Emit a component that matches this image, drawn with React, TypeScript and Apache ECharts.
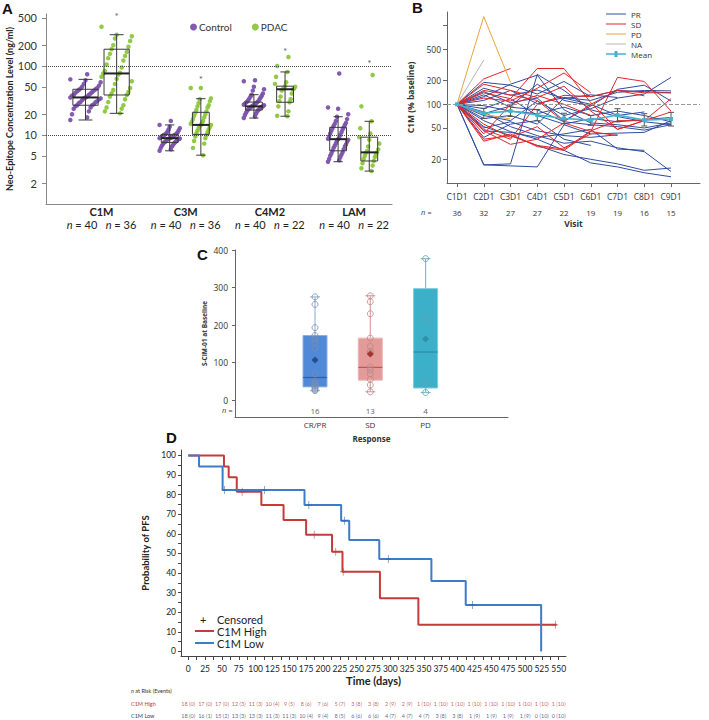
import React, { useEffect, useRef } from 'react';
import * as echarts from 'echarts';

/* ================= Panel A: neo-epitope levels ================= */
const A_CATEGORIES = ['C1M', 'C3M', 'C4M2', 'LAM'];
const A_N_CONTROL = [40, 40, 40, 40];
const A_N_PDAC = [36, 36, 22, 22];
const A_Y_LABELS = [2, 5, 10, 20, 50, 100, 200, 500];
const A_REF_LINES = [100, 10];
// [min, q1, median, q3, max]
const A_CONTROL_BOX = [
  [16.5, 27, 35, 46, 64],
  [5.9, 7.8, 9.0, 10.2, 14],
  [17.6, 23, 26, 30, 38.4],
  [4.1, 5.9, 8.7, 12.9, 18.4],
];
const A_PDAC_BOX = [
  [20.6, 38, 78, 175, 284],
  [5.1, 10.2, 14, 21.3, 33.6],
  [18.7, 29.8, 46, 51, 82],
  [3.0, 4.2, 5.6, 9.3, 15.8],
];
const A_PDAC_FLAGGED = [590, 72, 184, 122];
const A_C1M_CONTROL = [16.5, 18, 20, 22, 24, 25, 26, 27, 27, 28, 29, 30, 30, 31, 32, 33, 34, 34, 35, 35, 36, 37, 38, 38, 40, 41, 42, 43, 44, 45, 46, 47, 48, 50, 52, 55, 58, 62, 64, 76];
const A_C3M_CONTROL = [5.9, 6.2, 6.5, 6.8, 7.0, 7.2, 7.4, 7.6, 7.8, 7.9, 8.0, 8.2, 8.3, 8.5, 8.6, 8.7, 8.8, 8.9, 9.0, 9.0, 9.1, 9.2, 9.3, 9.5, 9.6, 9.8, 9.9, 10.0, 10.1, 10.2, 10.4, 10.6, 10.9, 11.2, 11.6, 12.0, 12.5, 13.2, 14.0, 16.0];
const A_C4M2_CONTROL = [17.6, 18.5, 19.5, 20.5, 21.0, 22.0, 22.5, 23.0, 23.5, 24.0, 24.5, 25.0, 25.0, 25.5, 26.0, 26.0, 26.5, 27.0, 27.0, 27.5, 28.0, 28.5, 29.0, 29.5, 30.0, 30.5, 31.0, 32.0, 33.0, 34.0, 35.0, 36.0, 37.0, 38.4, 40.0, 44.0, 46.0, 50.0, 60.0, 62.0];
const A_LAM_CONTROL = [4.1, 4.3, 4.5, 4.8, 5.0, 5.2, 5.4, 5.6, 5.9, 6.2, 6.5, 6.8, 7.0, 7.3, 7.6, 8.0, 8.3, 8.5, 8.7, 8.8, 9.0, 9.5, 10.0, 10.5, 11.0, 11.5, 12.0, 12.5, 12.9, 13.5, 14.0, 14.5, 15.0, 16.0, 17.0, 18.4, 20.0, 24.0, 25.0, 78.0];
const A_C1M_PDAC = [20.6, 22, 24, 25, 27, 30, 33, 36, 38, 40, 42, 45, 48, 55, 60, 65, 70, 75, 78, 80, 85, 95, 105, 120, 130, 140, 150, 160, 175, 190, 200, 230, 250, 270, 284, 370];
const A_C3M_PDAC = [5.1, 6.5, 7.5, 8.2, 9.0, 9.5, 10.0, 10.5, 11.0, 11.5, 12.0, 12.5, 13.0, 13.5, 14.0, 14.0, 14.5, 15.0, 15.5, 16.0, 17, 18, 19, 20, 21, 22, 23, 25, 26, 27, 29, 31, 33, 34, 48, 48];
const A_C4M2_PDAC = [18.7, 19, 22, 26, 29.8, 31, 33, 36, 40, 44, 46, 46, 47, 48, 50, 51, 55, 58, 70, 82, 100, 135];
const A_LAM_PDAC = [3.0, 3.3, 3.6, 3.9, 4.2, 4.5, 4.8, 5.0, 5.3, 5.5, 5.6, 5.8, 6.2, 6.8, 7.5, 8.5, 9.3, 10.5, 12.5, 15.8, 26, 74];
const A_CONTROL_VALUES = [A_C1M_CONTROL, A_C3M_CONTROL, A_C4M2_CONTROL, A_LAM_CONTROL];
const A_PDAC_VALUES = [A_C1M_PDAC, A_C3M_PDAC, A_C4M2_PDAC, A_LAM_PDAC];

/* ================= Panel B: C1M % baseline ================= */
const B_VISITS = ['C1D1', 'C2D1', 'C3D1', 'C4D1', 'C5D1', 'C6D1', 'C7D1', 'C8D1', 'C9D1'];
const B_N = [36, 32, 27, 27, 22, 19, 19, 16, 15];
const B_Y_LABELS = [20, 50, 100, 200, 500];
const B_Y_TICKS = [20, 50, 100, 200, 500, 1000];
const B_PR = [
  [100, 17, 17.5, 240, 150, 85, 70, 60, 55],
  [100, 17, 16.5, 16, 55, 42, 43, 44, 62],
  [100, 190, 175, 135, 195, 125, 150, 145, 140],
  [100, 145, 105, 120, 62, 95, 155, 175, 110],
  [100, 125, 180, 235, 85, 58, 55, 50, 58],
  [100, 80, 52, 40, 32, 34, 28, 25, 14],
  [100, 62, 45, 36, 26, 18, 16, 13.5, 12],
  [100, 52, 40, 30, 23, 20, 17.5, 14.5, 15.5],
  [100, 46, 44, 38, 42, 48, 27, 26],
  [100, 72, 62, 110, 72, 88, 120, 135, 220],
  [100, 132, 92, 85, 60, 55, 52, 47, 55],
  [100, 88, 118, 72, 56, 66, 60, 64, 68],
  [100, 112, 150, 102, 122, 112, 142, 150, 148],
  [100, 66, 72, 56, 120, 100, 72, 80],
  [100, 50, 60, 46, 40, 38, 41],
  [100, 38, 56, 62, 36, 30],
  [100, 76, 95, 180, 112, 96],
  [100, 96, 82, 76, 92, 72, 82, 72, 60],
  [100, 160, 130, 152, 118, 132, 122],
];
const B_SD = [
  [100, 210, 285],
  [100, 140, 118, 285, 285, 105, 48, 62, 80],
  [100, 36, 40, 30, 27, 46, 62, 62, 118],
  [100, 34, 42, 29, 26, 45, 220, 195, 82],
  [100, 48, 36, 100, 130, 125, 150, 128],
  [100, 180, 150, 122, 170, 82, 48, 62],
  [100, 46, 31, 36, 58, 45, 40],
  [100, 56, 38, 52, 28, 42],
  [100, 120, 110, 160, 250, 140],
  [100, 42, 100, 130, 100, 72],
  [100, 150, 132, 112, 60, 100, 150, 140, 140],
];
const B_PD = [
  [100, 1300, 190],
  [100, 75, 65],
];
const B_NA = [[100, 365]];
const B_MEAN = [100, 77, 82, 73, 66, 63, 73, 63, 65];
const B_MEAN_LOW = [100, 66, 70, 62, 57, 54, 60, 53, 53];
const B_MEAN_HIGH = [100, 89, 95, 86, 77, 72, 88, 76, 79];

/* ================= Panel C: baseline by response ================= */
const C_GROUPS = ['CR/PR', 'SD', 'PD'];
const C_N = [16, 13, 4];
const C_Y_LABELS = [0, 100, 200, 300, 400];
const C_BOX = [
  [25, 35, 60, 172, 275],
  [22, 53, 87, 165, 278],
  [20, 32, 128, 297, 377],
];
const C_MEAN = [107, 123, 163];
const C_CRPR_POINTS = [275, 255, 193, 172, 163, 152, 138, 70, 50, 45, 42, 38, 35, 30, 27, 25];
const C_SD_POINTS = [278, 262, 230, 165, 143, 130, 125, 88, 80, 70, 55, 40, 22];
const C_PD_POINTS = [377, 213, 42, 20];
const C_POINTS = [C_CRPR_POINTS, C_SD_POINTS, C_PD_POINTS];

/* ================= Panel D: Kaplan-Meier PFS ================= */
const D_TIME_LABELS = [0, 25, 50, 75, 100, 125, 150, 175, 200, 225, 250, 275, 300, 325, 350, 375, 400, 425, 450, 475, 500, 525, 550];
const D_Y_LABELS = [0, 10, 20, 30, 40, 50, 60, 70, 80, 90, 100];
const D_HIGH_STEPS = [[0, 100], [53, 94.4], [60, 88.9], [72, 81.5], [108.5, 74.7], [141.5, 67.1], [175, 59.6], [213.5, 50.9], [229, 40.7], [284.6, 27.1], [341.7, 13.6], [547, 13.6]];
const D_LOW_STEPS = [[0, 100], [16, 94.4], [51, 82.4], [172.6, 74.7], [227, 66.7], [239, 56.9], [283.6, 47.2], [361, 36], [412, 23.7], [524, 0]];
const D_HIGH_CENSORED = [[80, 81.5], [187, 59.6], [219, 50.9], [230, 40.7], [545, 13.6]];
const D_LOW_CENSORED = [[54, 82.4], [113, 82.4], [179, 74.7], [232, 66.7], [297, 47.2], [422, 23.7]];
const D_RISK_HIGH_N = [18, 17, 17, 12, 11, 10, 9, 8, 7, 5, 3, 3, 2, 2, 1, 1, 1, 1, 1, 1, 1, 1, 1];
const D_RISK_HIGH_E = [0, 0, 0, 3, 3, 4, 5, 6, 6, 7, 8, 8, 9, 9, 10, 10, 10, 10, 10, 10, 10, 10, 10];
const D_RISK_LOW_N = [18, 16, 15, 13, 13, 11, 11, 10, 9, 8, 6, 6, 4, 4, 4, 3, 3, 1, 1, 1, 1, 0, 0];
const D_RISK_LOW_E = [0, 1, 2, 3, 3, 3, 3, 4, 4, 5, 6, 6, 7, 7, 7, 8, 8, 9, 9, 9, 9, 10, 10];

/* ================= styling / layout ================= */
const FA = 'Lato, "Open Sans", sans-serif';
const FB = '"Open Sans", "Noto Sans", sans-serif';
const PURPLE = '#7c52ad';
const GREEN = '#8cc63f';
const C_PR = '#2e4c9e';
const C_SDc = '#e3262b';
const C_PDc = '#e8a33c';
const C_NA = '#b5b5b5';
const C_MEANc = '#3fb6cf';
const RED = '#c43b3b';
const BLUE = '#3d7cc9';
const A_BOX_HW = [0.15, 0.1, 0.1, 0.1];
const A_CTRL_OFF = -0.19;
const A_PDAC_OFF = 0.18;
const C_BOX_HW = 0.217;
const C_FILL = ['#4f89d8', '#e39a98', '#3cb0c9'];
const C_EDGE = ['#8db1e6', '#efb7b5', '#7fcbdc'];
const C_WHISK = ['#9bb8d8', '#d9a4a3', '#86bfcc'];
const C_MED = ['#2f5fa8', '#c55552', '#2a8ca3'];
const C_MEANCOL = ['#1f3f73', '#9b1c1c', '#2a8a9c'];
const C_PT = ['#7b8fae', '#b58a8a', '#6a9fab'];
const RISK_HIGH_Y = -26.8;
const RISK_LOW_Y = -32.9;
const C_N_Y = -26.7;
const LINE_ICON = 'path://M0,3.6L20,3.6L20,4.6L0,4.6Z';
const MEAN_ICON = 'path://M0,3.3L8.5,3.3L8.5,1L11.5,1L11.5,3.3L20,3.3L20,4.7L11.5,4.7L11.5,7L8.5,7L8.5,4.7L0,4.7Z';

const jit = (i: number) => ((i * 29) % 19) / 18 - 0.5;

function buildOption(): any {
  // ---- panel A
  const aBoxData: any[] = [];
  A_CATEGORIES.forEach((_, g) => {
    aBoxData.push([g + A_CTRL_OFF, ...A_CONTROL_BOX[g], A_BOX_HW[g]]);
    aBoxData.push([g + A_PDAC_OFF, ...A_PDAC_BOX[g], A_BOX_HW[g]]);
  });
  const aCtrlPts: any[] = [];
  A_CONTROL_VALUES.forEach((arr, g) => arr.forEach((v, i) => aCtrlPts.push([g + A_CTRL_OFF + jit(i) * 2.4 * A_BOX_HW[g], v])));
  const aPdacPts: any[] = [];
  A_PDAC_VALUES.forEach((arr, g) => arr.forEach((v, i) => aPdacPts.push([g + A_PDAC_OFF + jit(i + 3) * 2.4 * A_BOX_HW[g], v])));
  const aFlag = A_PDAC_FLAGGED.map((v, g) => [g + A_PDAC_OFF, v]);

  const aBoxRender = (params: any, api: any) => {
    const x = api.value(0);
    const hw = api.value(6);
    const ys = [1, 2, 3, 4, 5].map((k) => api.coord([x, api.value(k)])[1]);
    const xc = api.coord([x, 10])[0];
    const xl = api.coord([x - hw, 10])[0];
    const xr = api.coord([x + hw, 10])[0];
    const cl = api.coord([x - hw * 0.55, 10])[0];
    const cr = api.coord([x + hw * 0.55, 10])[0];
    const st = { stroke: '#3a3a3a', lineWidth: 1 };
    return {
      type: 'group',
      children: [
        { type: 'line', shape: { x1: xc, y1: ys[0], x2: xc, y2: ys[4] }, style: st },
        { type: 'line', shape: { x1: cl, y1: ys[0], x2: cr, y2: ys[0] }, style: st },
        { type: 'line', shape: { x1: cl, y1: ys[4], x2: cr, y2: ys[4] }, style: st },
        { type: 'rect', shape: { x: xl, y: ys[3], width: xr - xl, height: ys[1] - ys[3] }, style: { stroke: '#3a3a3a', lineWidth: 1, fill: 'rgba(255,255,255,0)' } },
        { type: 'line', shape: { x1: xl, y1: ys[2], x2: xr, y2: ys[2] }, style: { stroke: '#222', lineWidth: 2 } },
      ],
    };
  };

  // ---- panel B
  const lineSeries = (name: string, color: string, rows: number[][]) =>
    rows.map((r) => ({
      type: 'line', name, xAxisIndex: 1, yAxisIndex: 1,
      data: r.map((v, i) => [i, v]),
      symbol: 'none', showSymbol: false, silent: true, z: 2,
      lineStyle: { color, width: 1 }, itemStyle: { color },
      emphasis: { disabled: true },
    }));
  const bErr = B_MEAN.map((_, i) => [i, B_MEAN_LOW[i], B_MEAN_HIGH[i]]).slice(1);

  // ---- panel C
  const cBoxData = C_BOX.map((b, g) => [g, ...b]);
  const cPts: any[] = [];
  C_POINTS.forEach((arr, g) => arr.forEach((v) => cPts.push({ value: [g, v], itemStyle: { borderColor: C_PT[g] } })));
  const cMeans = C_MEAN.map((v, g) => ({ value: [g, v], itemStyle: { color: C_MEANCOL[g] } }));
  const cBoxRender = (params: any, api: any) => {
    const g = params.dataIndex;
    const x = api.value(0);
    const ys = [1, 2, 3, 4, 5].map((k) => api.coord([x, api.value(k)])[1]);
    const xc = api.coord([x, 0])[0];
    const xl = api.coord([x - C_BOX_HW, 0])[0];
    const xr = api.coord([x + C_BOX_HW, 0])[0];
    const ws = { stroke: C_WHISK[g], lineWidth: 1.2 };
    return {
      type: 'group',
      children: [
        { type: 'line', shape: { x1: xc, y1: ys[0], x2: xc, y2: ys[4] }, style: ws },
        { type: 'line', shape: { x1: xc - 5, y1: ys[0], x2: xc + 5, y2: ys[0] }, style: ws },
        { type: 'line', shape: { x1: xc - 5, y1: ys[4], x2: xc + 5, y2: ys[4] }, style: ws },
        { type: 'rect', shape: { x: xl, y: ys[3], width: xr - xl, height: ys[1] - ys[3] }, style: { fill: C_FILL[g], stroke: C_EDGE[g], lineWidth: 1 } },
        { type: 'line', shape: { x1: xl, y1: ys[2], x2: xr, y2: ys[2] }, style: { stroke: C_MED[g], lineWidth: 1.2 } },
      ],
    };
  };

  // ---- panel D
  const dTicks: number[] = [];
  D_TIME_LABELS.forEach((v) => { dTicks.push(v); if (v < 550) dTicks.push(v + 12.5); });
  const dYTicks: number[] = [];
  D_Y_LABELS.forEach((v) => { dYTicks.push(v); if (v < 100) dYTicks.push(v + 5); });
  const plusPath = 'path://M4,0h1v4h4v1h-4v4h-1v-4h-4v-1h4z';

  const smallText = (x: number, y: number, text: string, font: string, fill: string, extra: any = {}) => ({
    type: 'text', x, y, silent: true,
    style: { text, font, fill, align: extra.align || 'left', verticalAlign: 'middle', textAlign: extra.align || 'left', textVerticalAlign: 'middle', rich: extra.rich },
  });
  const panelLetter = (x: number, y: number, t: string) => ({
    type: 'text', x, y, silent: true,
    style: { text: t, font: 'bold 15px "Liberation Sans", Arial, sans-serif', fill: '#111', verticalAlign: 'top', textVerticalAlign: 'top' },
  });
  const axLine = (color: string) => ({ show: true, onZero: false, lineStyle: { color } });

  return {
    animation: false,
    backgroundColor: '#ffffff',
    textStyle: { fontFamily: FA },
    grid: [
      { left: 46, top: 14, width: 346, height: 190, outerBoundsMode: 'none' },
      { left: 447, top: 12, width: 253, height: 171, outerBoundsMode: 'none' },
      { left: 235, top: 250, width: 273, height: 167, outerBoundsMode: 'none' },
      { left: 181, top: 450, width: 385, height: 206, outerBoundsMode: 'none' },
    ],
    legend: [
      {
        data: ['Control', 'PDAC'], left: 190, top: 22, padding: 0, itemGap: 20, itemWidth: 7, itemHeight: 7,
        icon: 'circle', selectedMode: false, textStyle: { fontSize: 10, fontFamily: FA, color: '#333', padding: [0, 0, 0, -3] },
      },
      {
        data: [
          { name: 'PR', icon: LINE_ICON },
          { name: 'SD', icon: LINE_ICON },
          { name: 'PD', icon: LINE_ICON },
          { name: 'NA', icon: LINE_ICON },
          { name: 'Mean', icon: MEAN_ICON },
        ],
        left: 606, top: 10, orient: 'vertical', padding: 0,
        itemGap: 2, itemWidth: 20, itemHeight: 8, selectedMode: false,
        textStyle: { fontSize: 8, fontFamily: FB, color: '#333' },
      },
    ],
    xAxis: [
      {
        gridIndex: 0, type: 'value', min: -0.659, max: 3.45,
        axisLine: axLine('#888'), axisTick: { show: false }, splitLine: { show: false },
        axisLabel: {
          customValues: [0, 1, 2, 3], margin: 1, fontSize: 11, color: '#222', fontFamily: FA,
          formatter: (v: number) => {
            const i = Math.round(v);
            return `{c|${A_CATEGORIES[i]}}\n{i|n} = ${A_N_CONTROL[i]}   {i|n} = ${A_N_PDAC[i]}`;
          },
          rich: {
            c: { fontWeight: 'bold', fontSize: 11, lineHeight: 13, fontFamily: FA, color: '#222' },
            i: { fontStyle: 'italic', fontSize: 11, lineHeight: 13, fontFamily: FA, color: '#222' },
          },
          lineHeight: 13,
        },
      },
      {
        gridIndex: 1, type: 'value', min: -0.374, max: 9.084,
        name: 'Visit', nameLocation: 'middle', nameGap: 36,
        nameTextStyle: { fontWeight: 'bold', fontSize: 8.5, fontFamily: FB, color: '#333' },
        axisLine: axLine('#666'),
        axisTick: { show: true, customValues: [0, 1, 2, 3, 4, 5, 6, 7, 8], length: 4, lineStyle: { color: '#666' } },
        splitLine: { show: false },
        axisLabel: {
          customValues: [0, 1, 2, 3, 4, 5, 6, 7, 8], margin: 5,
          formatter: (v: number) => {
            const i = Math.round(v);
            return `{v|${B_VISITS[i]}}\n{n|${B_N[i]}}`;
          },
          rich: {
            v: { fontSize: 8.5, lineHeight: 16, fontFamily: FB, color: '#333' },
            n: { fontSize: 8, lineHeight: 16, fontFamily: FB, color: '#333' },
          },
        },
      },
      {
        gridIndex: 2, type: 'value', min: -1.447, max: 3.49,
        name: 'Response', nameLocation: 'middle', nameGap: 17,
        nameTextStyle: { fontWeight: 'bold', fontSize: 8, fontFamily: FB, color: '#333' },
        axisLine: axLine('#666'), axisTick: { show: false }, splitLine: { show: false },
        axisLabel: {
          customValues: [0, 1, 2], margin: 3, fontSize: 8, fontFamily: FB, color: '#333',
          formatter: (v: number) => C_GROUPS[Math.round(v)],
        },
      },
      {
        gridIndex: 3, type: 'value', min: -10.8, max: 560.9,
        name: 'Time (days)', nameLocation: 'middle', nameGap: 19,
        nameTextStyle: { fontWeight: 'bold', fontSize: 11, fontFamily: FA, color: '#222' },
        axisLine: axLine('#444'),
        axisTick: { show: true, customValues: dTicks, length: 4, lineStyle: { color: '#444' } },
        splitLine: { show: false },
        axisLabel: { customValues: D_TIME_LABELS, margin: 8, fontSize: 8.5, fontFamily: FA, color: '#222' },
      },
    ],
    yAxis: [
      {
        gridIndex: 0, type: 'log', logBase: 10, min: 1, max: 567,
        name: 'Neo-Epitope Concentration Level (ng/ml)', nameLocation: 'middle', nameGap: 30,
        nameTextStyle: { fontWeight: 'bold', fontSize: 9, fontFamily: FA, color: '#222' },
        axisLine: axLine('#888'),
        axisTick: { show: true, customValues: A_Y_LABELS, length: 4, lineStyle: { color: '#888' } },
        splitLine: { show: false },
        axisLabel: { customValues: A_Y_LABELS, margin: 9, fontSize: 11, fontFamily: FA, color: '#333' },
      },
      {
        gridIndex: 1, type: 'log', logBase: 10, min: 10, max: 1489,
        name: 'C1M (% baseline)', nameLocation: 'middle', nameGap: 32,
        nameTextStyle: { fontWeight: 'bold', fontSize: 8.5, fontFamily: FB, color: '#333' },
        axisLine: axLine('#666'),
        axisTick: { show: true, customValues: B_Y_TICKS, length: 4, lineStyle: { color: '#666' } },
        splitLine: { show: false },
        axisLabel: { customValues: B_Y_LABELS, margin: 6, fontSize: 8.5, fontFamily: FB, color: '#333' },
      },
      {
        gridIndex: 2, type: 'value', min: -45.3, max: 400,
        name: 'S-CIM-01 at Baseline', nameLocation: 'middle', nameGap: 27,
        nameTextStyle: { fontWeight: 'bold', fontSize: 6.5, fontFamily: FB, color: '#333' },
        axisLine: axLine('#666'),
        axisTick: { show: true, customValues: C_Y_LABELS, length: 3, lineStyle: { color: '#666' } },
        splitLine: { show: false },
        axisLabel: { customValues: C_Y_LABELS, margin: 7, fontSize: 8.5, fontFamily: FB, color: '#333' },
      },
      {
        gridIndex: 3, type: 'value', min: -2.3, max: 102.8,
        name: 'Probability of PFS', nameLocation: 'middle', nameGap: 18,
        nameTextStyle: { fontWeight: 'bold', fontSize: 9.5, fontFamily: FA, color: '#222' },
        axisLine: axLine('#444'),
        axisTick: { show: true, customValues: dYTicks, length: 3, lineStyle: { color: '#444' } },
        splitLine: { show: false },
        axisLabel: { customValues: D_Y_LABELS, margin: 5, fontSize: 8.5, fontFamily: FA, color: '#222' },
      },
    ],
    series: [
      // ----- A
      {
        type: 'scatter', name: 'Control', xAxisIndex: 0, yAxisIndex: 0, data: aCtrlPts,
        symbolSize: 4.5, itemStyle: { color: PURPLE, opacity: 0.95 }, z: 2, silent: true,
      },
      {
        type: 'scatter', name: 'PDAC', xAxisIndex: 0, yAxisIndex: 0, data: aPdacPts,
        symbolSize: 4.5, itemStyle: { color: GREEN, opacity: 0.95 }, z: 2, silent: true,
      },
      {
        type: 'custom', name: 'A boxes', xAxisIndex: 0, yAxisIndex: 0, data: aBoxData, z: 3, silent: true,
        renderItem: aBoxRender,
        markLine: {
          silent: true, symbol: 'none', label: { show: false },
          lineStyle: { type: 'dotted', color: '#444', width: 1 },
          data: A_REF_LINES.map((v) => ({ yAxis: v })),
        },
      },
      {
        type: 'scatter', name: 'A flagged', xAxisIndex: 0, yAxisIndex: 0, data: aFlag, clip: false,
        symbolSize: 1, itemStyle: { color: 'rgba(0,0,0,0)' }, silent: true,
        label: { show: true, formatter: '*', position: 'inside', offset: [0, 3], fontSize: 10, color: '#333', fontFamily: FA },
      },
      // ----- B
      ...lineSeries('PR', C_PR, B_PR),
      ...lineSeries('SD', C_SDc, B_SD),
      ...lineSeries('PD', C_PDc, B_PD),
      ...lineSeries('NA', C_NA, B_NA),
      {
        type: 'custom', name: 'Mean error', xAxisIndex: 1, yAxisIndex: 1, data: bErr, z: 6, silent: true,
        renderItem: (params: any, api: any) => {
          const x = api.value(0);
          const lo = api.coord([x, api.value(1)]);
          const hi = api.coord([x, api.value(2)]);
          const st = { stroke: '#555', lineWidth: 1 };
          return {
            type: 'group',
            children: [
              { type: 'line', shape: { x1: lo[0], y1: lo[1], x2: hi[0], y2: hi[1] }, style: st },
              { type: 'line', shape: { x1: lo[0] - 3, y1: lo[1], x2: lo[0] + 3, y2: lo[1] }, style: st },
              { type: 'line', shape: { x1: hi[0] - 3, y1: hi[1], x2: hi[0] + 3, y2: hi[1] }, style: st },
            ],
          };
        },
      },
      {
        type: 'line', name: 'Mean', xAxisIndex: 1, yAxisIndex: 1, data: B_MEAN.map((v, i) => [i, v]),
        symbol: 'rect', symbolSize: 4, z: 7, silent: true,
        lineStyle: { color: C_MEANc, width: 1.6 }, itemStyle: { color: C_MEANc },
        markLine: {
          silent: true, symbol: 'none', label: { show: false },
          lineStyle: { type: 'dashed', color: '#999', width: 1 },
          data: [{ yAxis: 100 }],
        },
      },
      // ----- C
      {
        type: 'custom', name: 'C boxes', xAxisIndex: 2, yAxisIndex: 2, data: cBoxData, z: 2, silent: true,
        renderItem: cBoxRender,
      },
      {
        type: 'scatter', name: 'C points', xAxisIndex: 2, yAxisIndex: 2, data: cPts, z: 4, silent: true,
        symbolSize: 6, itemStyle: { color: 'rgba(255,255,255,0)', borderWidth: 1 },
      },
      {
        type: 'scatter', name: 'C means', xAxisIndex: 2, yAxisIndex: 2, data: cMeans, z: 5, silent: true,
        symbol: 'diamond', symbolSize: 7,
      },
      {
        type: 'scatter', name: 'C n', xAxisIndex: 2, yAxisIndex: 2, data: C_N.map((n, g) => [g, C_N_Y]), z: 5, silent: true,
        symbolSize: 1, itemStyle: { color: 'rgba(0,0,0,0)' },
        label: { show: true, position: 'inside', fontSize: 8, fontFamily: FB, color: '#333', formatter: (p: any) => String(C_N[p.dataIndex]) },
      },
      // ----- D
      {
        type: 'line', name: 'C1M High', xAxisIndex: 3, yAxisIndex: 3, data: D_HIGH_STEPS, step: 'end',
        symbol: 'none', lineStyle: { color: RED, width: 2 }, itemStyle: { color: RED }, z: 3, silent: true,
      },
      {
        type: 'line', name: 'C1M Low', xAxisIndex: 3, yAxisIndex: 3, data: D_LOW_STEPS, step: 'end',
        symbol: 'none', lineStyle: { color: BLUE, width: 2 }, itemStyle: { color: BLUE }, z: 3, silent: true,
      },
      {
        type: 'scatter', name: 'High censored', xAxisIndex: 3, yAxisIndex: 3, data: D_HIGH_CENSORED, clip: false,
        symbol: plusPath, symbolSize: [6, 8], itemStyle: { color: '#b04040' }, z: 4, silent: true,
      },
      {
        type: 'scatter', name: 'Low censored', xAxisIndex: 3, yAxisIndex: 3, data: D_LOW_CENSORED, clip: false,
        symbol: plusPath, symbolSize: [6, 8], itemStyle: { color: '#2f64aa' }, z: 4, silent: true,
      },
      {
        type: 'scatter', name: 'Risk high', xAxisIndex: 3, yAxisIndex: 3, clip: false,
        data: D_TIME_LABELS.map((d) => [d, RISK_HIGH_Y]), symbolSize: 1, itemStyle: { color: 'rgba(0,0,0,0)' }, silent: true,
        label: {
          show: true, position: 'inside', fontSize: 5.5, fontFamily: FA, color: '#b5403a',
          formatter: (p: any) => `${D_RISK_HIGH_N[p.dataIndex]} (${D_RISK_HIGH_E[p.dataIndex]})`,
        },
      },
      {
        type: 'scatter', name: 'Risk low', xAxisIndex: 3, yAxisIndex: 3, clip: false,
        data: D_TIME_LABELS.map((d) => [d, RISK_LOW_Y]), symbolSize: 1, itemStyle: { color: 'rgba(0,0,0,0)' }, silent: true,
        label: {
          show: true, position: 'inside', fontSize: 5.5, fontFamily: FA, color: '#2e3f6e',
          formatter: (p: any) => `${D_RISK_LOW_N[p.dataIndex]} (${D_RISK_LOW_E[p.dataIndex]})`,
        },
      },
    ],
    graphic: [
      panelLetter(2, 1, 'A'),
      panelLetter(412, 0, 'B'),
      panelLetter(197, 247, 'C'),
      panelLetter(166, 430, 'D'),
      smallText(421, 212, 'n =', `italic 7.5px ${FB}`, '#444'),
      smallText(222, 410, 'n =', `italic 7.5px ${FB}`, '#444'),
      // D legend
      smallText(200, 619, '+', `11px ${FA}`, '#222'),
      smallText(217, 619, 'Censored', `11px ${FA}`, '#222'),
      { type: 'line', silent: true, shape: { x1: 195, y1: 631, x2: 214, y2: 631 }, style: { stroke: RED, lineWidth: 2 } },
      smallText(217, 631, 'C1M High', `11px ${FA}`, '#222'),
      { type: 'line', silent: true, shape: { x1: 195, y1: 643, x2: 214, y2: 643 }, style: { stroke: BLUE, lineWidth: 2 } },
      smallText(217, 643, 'C1M Low', `11px ${FA}`, '#222'),
      // risk table labels
      smallText(131, 691, '{i|n} at Risk (Events)', `5.5px ${FA}`, '#333', { rich: { i: { fontStyle: 'italic', fontSize: 5.5, fontFamily: FA } } }),
      smallText(131, 704, 'C1M High', `5.5px ${FA}`, '#b5403a'),
      smallText(131, 716, 'C1M Low', `5.5px ${FA}`, '#2e3f6e'),
    ],
  };
}

export default function App() {
  const ref = useRef<HTMLDivElement>(null);
  useEffect(() => {
    if (!ref.current) return;
    const chart = echarts.init(ref.current, null, { renderer: 'svg', width: 709, height: 720 });
    chart.setOption(buildOption());
    return () => chart.dispose();
  }, []);
  return (
    <div
      ref={ref}
      style={{ position: 'absolute', left: 0, top: 0, width: 709, height: 720, background: '#fff' }}
    />
  );
}
